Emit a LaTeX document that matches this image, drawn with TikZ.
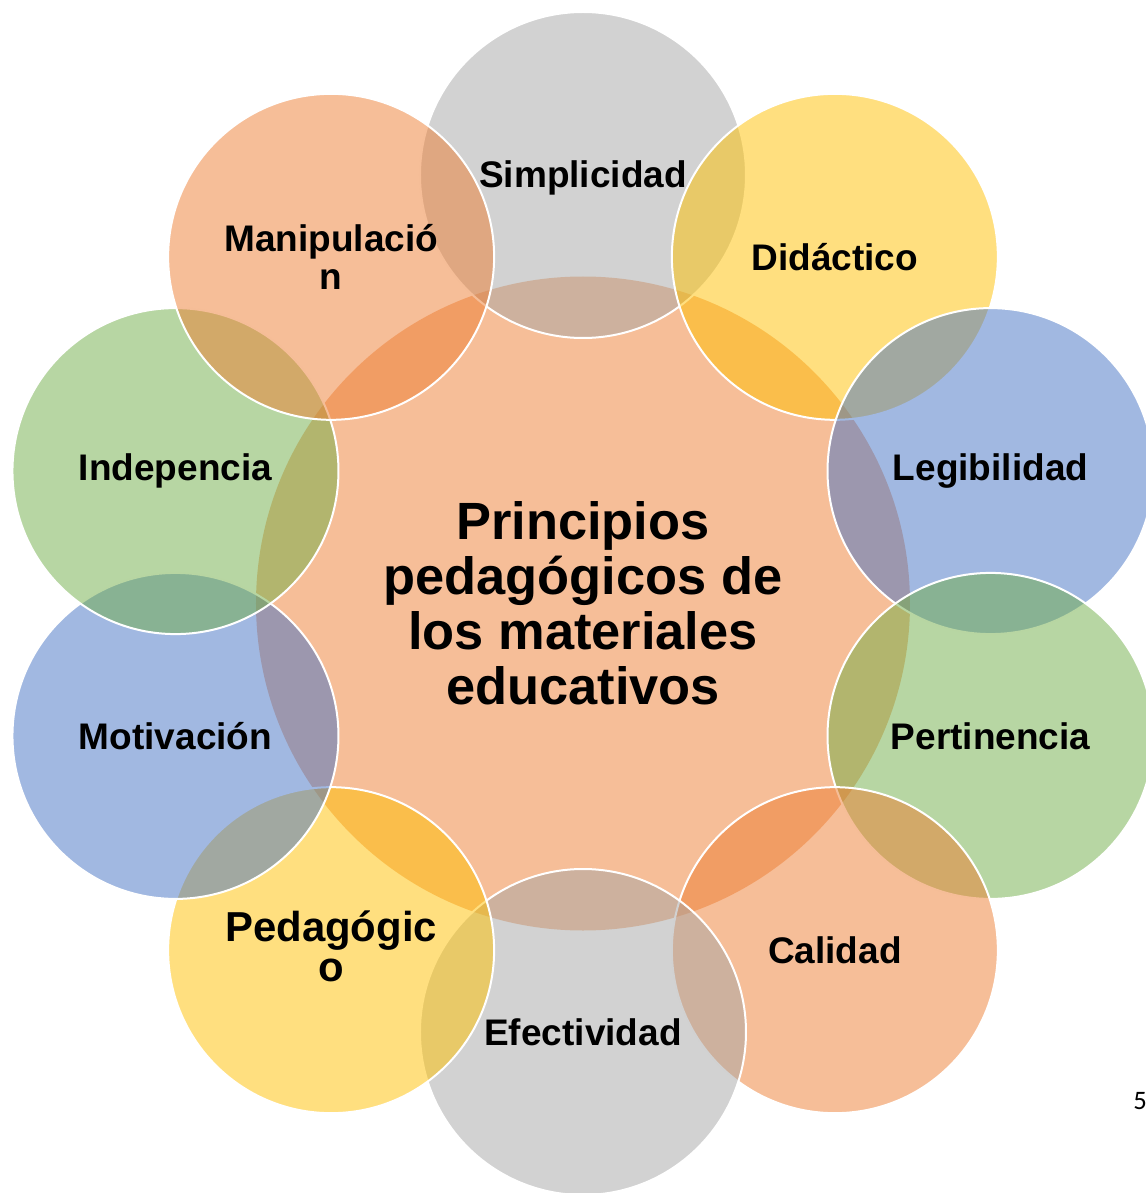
\documentclass[tikz,border=0pt]{standalone}
\usepackage{fontspec}
\setmainfont{Liberation Sans}
\newfontfamily\pagefont{Carlito}

\definecolor{accgray}{HTML}{A5A5A5}
\definecolor{accorange}{HTML}{ED7D31}
\definecolor{accyellow}{HTML}{FFC000}
\definecolor{accblue}{HTML}{4472C4}
\definecolor{accgreen}{HTML}{70AD47}

\tikzset{
  petal/.style={circle, draw=white, line width=1.5pt, fill=#1, fill opacity=0.5,
    inner sep=0pt, minimum size=244.5pt},
  core/.style={circle, fill=accorange, fill opacity=0.5, inner sep=0pt, minimum size=490.5pt},
  petaltext/.style={font=\bfseries\fontsize{27.75}{28.5}\selectfont, align=center, inner sep=0pt},
  coretext/.style={font=\bfseries\fontsize{39.3}{41.2}\selectfont, align=center, inner sep=0pt}
}

\begin{document}
\begin{tikzpicture}[x=0.75pt,y=0.75pt]
\useasboundingbox (-583,-589.5) rectangle (563,603.5);

% centre
\node[core] (core) at (0,0) {};

% circles round the centre
\node[petal=accgray]   (simp)  at (90:428.5)  {};
\node[petal=accyellow] (didac) at (54:428.5)  {};
\node[petal=accblue]   (legib) at (18:428.5)  {};
\node[petal=accgreen]  (perti) at (-18:428.5) {};
\node[petal=accorange] (calid) at (-54:428.5) {};
\node[petal=accgray]   (efect) at (-90:428.5) {};
\node[petal=accyellow] (pedag) at (234:428.5) {};
\node[petal=accblue]   (motiv) at (198:428.5) {};
\node[petal=accgreen]  (indep) at (162:428.5) {};
\node[petal=accorange] (manip) at (126:428.5) {};

% texts
\node[coretext] (core-txt) at (core.center) {Principios\\pedagógicos de\\los materiales\\educativos};
\node[petaltext] (simp-txt)  at ([yshift=-2]simp.center)  {Simplicidad};
\node[petaltext] (didac-txt) at (didac.center) {Didáctico};
\node[petaltext] (legib-txt) at (legib.center) {Legibilidad};
\node[petaltext] (perti-txt) at (perti.center) {Pertinencia};
\node[petaltext] (calid-txt) at (calid.center) {Calidad};
\node[petaltext] (efect-txt) at (efect.center) {Efectividad};
\node[petaltext, font=\bfseries\fontsize{31.4}{30}\selectfont] (pedag-txt) at ([yshift=3]pedag.center) {Pedagógic\\o};
\node[petaltext] (motiv-txt) at (motiv.center) {Motivación};
\node[petaltext] (indep-txt) at (indep.center) {Indepencia};
\node[petaltext] (manip-txt) at (manip.center) {Manipulació\\n};

% page number
\node[anchor=west, inner sep=0pt, font=\pagefont\fontsize{20}{20}\selectfont] (pagenum) at (550,-497.5) {5};
\end{tikzpicture}
\end{document}
